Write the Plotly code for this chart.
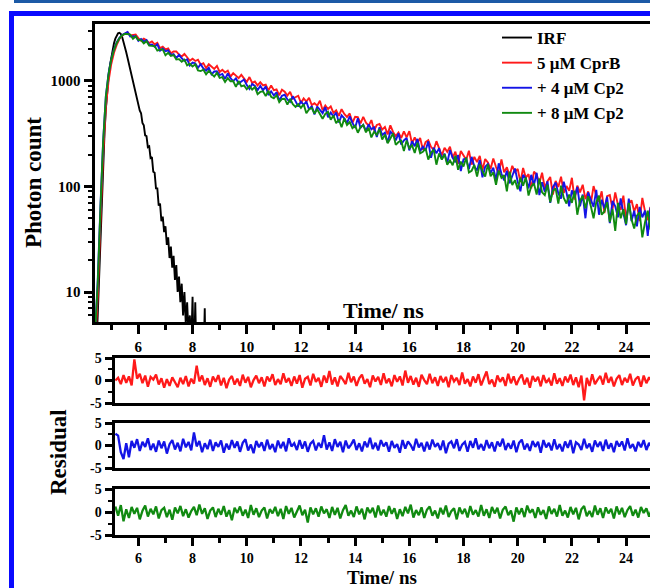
import numpy as np
import plotly.graph_objects as go

# ---------------- channel grids (ns) ----------------
DECAY_T0, DECAY_DT = 4.4, 0.1     # decay histograms
IRF_T0, IRF_DT = 4.4, 0.05        # instrument response
RES_T0, RES_DT = 5.15, 0.1        # fit residuals

series_names = ["IRF", "5 \u03bcM CprB", "+ 4 \u03bcM Cp2", "+ 8 \u03bcM Cp2"]

# ---------------- photon counts ----------------
irf_counts = [
    2, 3, 6, 14, 35, 80, 170, 320, 540, 800,
    1100, 1400, 1700, 2000, 2280, 2520, 2700, 2830, 2860, 2800,
    2620, 2380, 2120, 1880, 1660, 1460, 1290, 1140, 1010, 870,
    805, 680, 630, 525, 495, 400, 380, 305, 300, 236,
    240, 186, 190, 138, 135, 96, 96, 66, 69, 47,
    52, 37, 42, 28, 33, 21, 27, 17, 22, 13,
    18, 10, 14, 8, 12, 6, 10, 5, 8, 4,
    6, 3, 9, 2, 8, 2, 4, 1, 3, 1,
    2, 7, 1, 2, 1,
]

cprb_counts = [
    3, 9, 45, 200, 560, 1000, 1450, 1850, 2200, 2500, 2700, 2820,
    2901, 2700, 2727, 2755,
    2550, 2411, 2519, 2430, 2284, 2372, 2220, 2302, 2050, 2114,
    1988, 2035, 1829, 1905, 1905, 1779, 1706, 1804, 1678, 1556,
    1628, 1547, 1590, 1428, 1475, 1323, 1442, 1363, 1303, 1388,
    1219, 1277, 1205, 1255, 1101, 1188, 1135, 1063, 1142, 1045,
    978, 1090, 959, 987, 908, 973, 908, 922, 814, 905,
    817, 831, 732, 828, 793, 728, 788, 681, 708, 725,
    620, 683, 638, 691, 591, 617, 584, 649, 527, 586,
    543, 574, 498, 526, 467, 540, 487, 456, 493, 402,
    458, 455, 396, 457, 402, 378, 426, 341, 383, 391,
    346, 367, 312, 380, 329, 300, 325, 288, 333, 292,
    335, 256, 292, 258, 288, 223, 263, 274, 238, 222,
    269, 233, 197, 233, 213, 238, 187, 214, 164, 217,
    194, 179, 218, 161, 191, 170, 195, 143, 182, 169,
    147, 184, 153, 132, 181, 136, 152, 126, 157, 137,
    147, 110, 150, 121, 131, 96, 138, 129, 108, 135,
    97, 112, 123, 84, 113, 99, 124, 87, 101, 91,
    121, 75, 102, 88, 104, 76, 90, 69, 101, 82,
    72, 90, 56, 81, 83, 61, 88, 67, 60, 82,
    49, 69, 74, 58, 68, 47, 78, 58, 48, 64,
    44,
]

cp2_4_counts = [
    4, 13, 65, 270, 720, 1180, 1620, 2000, 2320, 2560, 2730, 2800,
    2917, 2644, 2663, 2662,
    2395, 2497, 2365, 2444, 2194, 2217, 2114, 2224, 1935, 2031,
    1912, 1949, 1765, 1797, 1647, 1774, 1640, 1553, 1607, 1402,
    1493, 1472, 1336, 1441, 1313, 1251, 1335, 1155, 1229, 1236,
    1136, 1166, 1047, 1176, 1064, 997, 1058, 946, 989, 1031,
    915, 842, 937, 898, 819, 900, 815, 890, 735, 798,
    729, 780, 654, 724, 741, 669, 633, 716, 644, 573,
    637, 594, 637, 536, 579, 481, 573, 528, 496, 564,
    454, 503, 460, 503, 403, 472, 442, 399, 462, 401,
    360, 444, 359, 385, 336, 387, 348, 364, 295, 364,
    308, 323, 260, 331, 313, 273, 319, 250, 273, 289,
    220, 268, 241, 283, 216, 238, 219, 268, 187, 233,
    206, 231, 182, 205, 167, 221, 187, 170, 199, 140,
    181, 184, 146, 191, 155, 142, 178, 122, 154, 163,
    134, 151, 115, 166, 132, 114, 141, 107, 128, 148,
    111, 90, 129, 119, 96, 129, 103, 135, 83, 110,
    89, 112, 70, 99, 109, 86, 77, 111, 88, 65,
    92, 79, 99, 65, 84, 50, 88, 74, 64, 93,
    54, 75, 62, 80, 45, 73, 65, 51, 77, 56,
    43, 77, 47, 59, 42, 64, 51, 59, 34, 63,
    43,
]

cp2_8_counts = [
    4, 12, 62, 265, 710, 1160, 1600, 1975, 2290, 2540, 2710, 2790,
    2790, 2753, 2514, 2642,
    2447, 2442, 2268, 2379, 2160, 2136, 2140, 1940, 1984, 1989,
    1752, 1849, 1731, 1760, 1598, 1610, 1521, 1594, 1407, 1456,
    1375, 1440, 1257, 1241, 1278, 1154, 1244, 1166, 1100, 1193,
    1069, 1086, 977, 1066, 994, 1000, 879, 999, 888, 907,
    834, 897, 830, 874, 750, 788, 797, 721, 807, 709,
    684, 733, 630, 675, 679, 596, 678, 602, 569, 602,
    556, 602, 495, 540, 555, 492, 538, 487, 438, 488,
    511, 429, 470, 398, 431, 364, 442, 383, 408, 357,
    377, 323, 366, 383, 326, 360, 292, 331, 309, 349,
    279, 310, 257, 285, 319, 248, 264, 272, 217, 273,
    231, 246, 208, 260, 206, 213, 230, 180, 209, 224,
    161, 206, 180, 202, 161, 177, 159, 196, 144, 172,
    155, 188, 136, 141, 160, 124, 162, 140, 124, 162,
    125, 136, 104, 141, 121, 128, 90, 138, 103, 115,
    94, 121, 102, 122, 82, 100, 107, 84, 119, 88,
    83, 104, 71, 91, 96, 69, 102, 78, 69, 84,
    70, 91, 54, 73, 82, 62, 81, 65, 50, 71,
    82, 54, 58, 71, 46, 61, 38, 70, 50, 61,
    44, 70, 49, 40, 53, 57, 33, 46, 59, 39,
    46,
]

# ---------------- weighted residuals ----------------
cprb_resid = [
    0.0, 0.6, -0.8, 1.2, -0.5, 0.9, -1.1, 4.7, 0.4, 1.5, -0.6, 1.1, -1.4, 0.8, 0.2, 1.3, -0.9, 0.5, -1.6, 0.3,
    -1.2, 0.7, -0.4, -1.5, 0.6, -0.8, 1.0, -1.3, 0.4, -0.7, 3.3, -0.2, 1.1, -1.0, 0.5, -1.4, 0.9, -0.3, 1.2, -1.1,
    0.6, -1.7, 0.2, 1.0, -0.9, 0.4, -1.2, 1.3, -0.5, 0.8, -1.5, 0.1, 1.1, -0.6, 0.7, -1.3, 0.9, -0.2, 1.4, -1.0,
    0.3, -0.8, 1.6, -0.4, 0.5, -1.2, 0.9, -0.7, 1.2, -1.6, 0.4, 0.8, -1.1, 1.5, -0.3, 0.6, -1.4, 1.1, -0.5, 2.1,
    -0.9, 0.7, -1.3, 1.0, 0.2, -0.8, 1.7, -0.4, 0.9, -1.2, 0.5, 1.3, -0.7, 0.3, -1.5, 1.1, -0.2, 0.8, -1.0, 1.6,
    -0.6, 0.4, -1.3, 1.2, -0.3, 0.9, -1.1, 2.2, -0.5, 1.0, -0.9, 0.6, -1.4, 1.3, 0.1, -0.8, 1.5, -0.6, 0.7, -1.2,
    1.0, -0.4, 0.8, -1.5, 1.2, -0.2, 0.6, -1.0, 1.8, -0.7, 0.3, -1.3, 0.9, -0.5, 1.4, -1.1, 0.5, 2.0, -0.8, 0.2,
    -1.4, 1.1, -0.3, 0.7, -1.2, 1.5, -0.6, 0.9, -1.0, 0.4, 1.3, -0.9, 0.6, -1.6, 1.0, -0.2, 0.8, -1.3, 1.2, -0.5,
    0.3, -1.1, 1.6, -0.7, 0.5, -1.2, 0.9, -0.4, 1.3, -1.0, 0.7, -1.5, 1.1, -4.4, 0.6, -1.2, 1.4, -0.8, 0.2, 1.0,
    -0.9, 1.7, -0.5, 0.8, -1.3, 0.4, 1.2, -1.0, 0.6, -0.4, 1.5, -1.1, 0.3, 0.9, -1.4, 1.1, -0.6, 0.7, -0.2,
]

cp2_4_resid = [
    2.6, 2.2, -1.5, -3.0, 0.5, -2.6, 1.0, -0.5, 1.4, -1.2, 0.8, -0.3, 1.6, -1.0, 0.4, -1.4, 1.1, -0.6, 0.9, -1.8,
    0.3, 1.2, -0.9, 0.6, -1.3, 1.5, -0.4, 0.8, -1.1, 2.9, -0.2, 1.0, -1.5, 0.5, -0.8, 1.3, -1.2, 0.7, -0.3, 1.1,
    -1.6, 0.4, -0.9, 1.2, -0.5, 0.9, -1.4, 0.6, 1.4, -1.1, 0.2, -1.7, 1.0, -0.4, 0.7, -1.2, 1.3, -0.8, 0.3, -1.5,
    1.1, -0.6, 0.8, -1.3, 1.6, -0.2, 0.5, -1.0, 1.2, -0.7, 0.9, -1.4, 0.4, 1.0, -1.1, 0.6, -0.5, 2.3, -0.9, 0.7,
    -1.2, 1.4, -0.3, 0.8, -1.5, 1.1, -0.6, 0.2, 1.3, -1.0, 0.5, -1.3, 0.9, -0.4, 1.7, -0.8, 0.6, -1.1, 1.2, -0.2,
    0.7, -1.4, 1.0, -0.5, 0.3, -1.6, 1.2, -0.7, 0.9, 0.1, -1.1, 1.5, -0.4, 0.6, -1.3, 0.8, -0.9, 1.3, -0.3, 0.5,
    -1.0, 1.1, -1.7, 0.4, 0.9, -0.6, 1.4, -1.2, 0.2, 0.8, -1.4, 1.0, -0.5, 1.6, -0.8, 0.3, -1.1, 1.2, -0.6, 0.7,
    -1.3, 0.9, -0.2, 1.5, -1.0, 0.5, -0.7, 1.1, -1.5, 0.6, 1.3, -0.9, 0.4, -1.2, 1.0, -0.3, 0.8, -1.6, 1.2, -0.4,
    0.6, -1.1, 1.4, -0.8, 0.3, -1.3, 0.9, -0.5, 1.2, -1.7, 0.7, 0.2, -1.0, 1.5, -0.6, 0.4, -1.4, 1.1, -0.3, 0.8,
    -1.2, 1.3, -0.7, 0.5, -1.5, 1.0, -0.2, 0.9, -1.1, 1.6, -0.6, 0.3, -1.3, 0.8, -0.4, 1.2, -1.0, 0.6, -0.5,
]

cp2_8_resid = [
    1.2, -0.8, 1.5, -2.0, 0.6, -1.3, 1.1, -0.4, 0.9, -1.6, 0.3, 1.4, -1.0, 0.7, -0.5, 1.2, -1.4, 0.4, 0.9, -1.1,
    0.5, -1.7, 1.0, -0.3, 1.3, -0.9, 0.6, -1.2, 0.2, 1.1, -0.7, 1.6, -0.4, 0.8, -1.5, 0.3, 1.0, -1.1, 0.7, -0.6,
    1.3, -1.0, 0.4, -1.8, 0.9, -0.2, 1.2, -0.8, 0.5, -1.3, 1.5, -0.6, 0.8, -1.1, 0.3, 1.0, -1.4, 0.6, -0.3, 1.1,
    -0.9, 0.7, -1.5, 1.3, -0.4, 0.9, -1.2, 0.2, 1.4, -0.7, 0.5, -2.3, 1.0, -0.5, 0.8, -1.0, 1.2, -0.3, 0.6, -1.3,
    1.1, -0.6, 0.9, -1.4, 0.4, 1.5, -0.8, 0.3, -1.1, 1.2, -0.5, 0.7, -1.6, 1.0, -0.2, 0.9, -1.2, 1.4, -0.7, 0.5,
    -1.0, 1.3, -0.4, 0.8, -1.5, 0.6, -0.9, 1.1, -0.3, 1.6, -1.2, 0.4, -0.7, 1.0, -1.3, 0.5, 1.2, -0.8, 0.3, -1.4,
    0.9, -0.5, 1.4, -1.1, 0.2, 0.8, -1.6, 1.0, -0.4, 0.7, -1.2, 1.3, -0.6, 0.4, -1.0, 1.5, -0.8, 0.6, -1.3, 1.1,
    -0.3, 0.9, -1.4, 0.5, 1.2, -0.7, 0.3, -2.1, 1.0, -0.5, 0.8, -1.1, 1.4, -0.2, 0.6, -1.3, 1.0, -0.6, 0.4, -1.5,
    1.2, -0.4, 0.7, -1.0, 1.5, -0.8, 0.3, -1.2, 1.1, -0.5, 0.9, -1.6, 0.6, 1.3, -0.9, 0.2, -1.1, 1.4, -0.6, 0.8,
    -1.3, 1.0, -0.3, 0.7, -1.4, 1.2, -0.5, 0.9, -1.1, 0.4, 1.3, -0.8, 0.5, -1.2, 1.1, -0.2, 0.8, -1.0, 0.6,
]

# ---------------- styling ----------------
W, H = 650, 588
FONT = "Liberation Serif, Times New Roman, serif"
colors = ["#000000", "#ff1a1a", "#1414e6", "#118a11"]


def xp(px):
    return px / W


def yp(py):
    return 1 - py / H


def grid(t0, dt, n):
    return np.round(t0 + dt * np.arange(n), 4)


t_irf = grid(IRF_T0, IRF_DT, len(irf_counts))
t_dec = grid(DECAY_T0, DECAY_DT, len(cprb_counts))
t_res = grid(RES_T0, RES_DT, len(cprb_resid))

fig = go.Figure()

decays = [(t_irf, irf_counts), (t_dec, cprb_counts), (t_dec, cp2_4_counts), (t_dec, cp2_8_counts)]
for i, (tt, yy) in enumerate(decays):
    fig.add_trace(go.Scatter(
        x=tt, y=yy, mode="lines", name=series_names[i],
        line=dict(color=colors[i], width=1.9), xaxis="x", yaxis="y"))

resids = [cprb_resid, cp2_4_resid, cp2_8_resid]
for i, rr in enumerate(resids):
    fig.add_trace(go.Scatter(
        x=t_res, y=rr, mode="lines", showlegend=False,
        line=dict(color=colors[i + 1], width=2.3),
        xaxis=f"x{i + 2}", yaxis=f"y{i + 2}"))

tickfont = dict(family=FONT, size=15, color="black", weight="bold")
X_MAX = 24.883

frame = dict(showline=True, linewidth=3, linecolor="black", showgrid=False, zeroline=False,
             automargin=False)


def time_axis(domain_left, left_val, anchor, labelled, size=15, ticklen=9):
    ax = dict(frame, domain=[domain_left, 1], range=[left_val, X_MAX], anchor=anchor, mirror=True)
    if labelled:
        ax.update(ticks="outside", ticklen=ticklen, tickwidth=2.5, tickcolor="black",
                  tick0=0, dtick=2, tickfont=dict(tickfont, size=size),
                  minor=dict(ticks="outside", ticklen=5, tickwidth=2.5, tickcolor="black", tick0=0, dtick=1))
    else:
        ax.update(ticks="", showticklabels=False)
    return ax


minor_log = [v * m for v in (1, 10, 100, 1000) for m in range(2, 10)]

layout = dict(
    width=W, height=H, margin=dict(l=0, r=0, t=0, b=0, pad=0, autoexpand=False),
    paper_bgcolor="white", plot_bgcolor="white",
    xaxis=time_axis(xp(94.5), 4.381, "y", True),
    yaxis=dict(frame, domain=[yp(322), yp(24)], type="log", range=[0.716, 3.54], anchor="x",
               tickvals=[10, 100, 1000], ticktext=["10", "100", "1000"],
               ticks="outside", ticklen=8, tickwidth=2.5, tickcolor="black", tickfont=tickfont,
               minor=dict(tickvals=minor_log, ticks="outside", ticklen=4, tickwidth=2, tickcolor="black")),
    showlegend=True,
    legend=dict(x=xp(497), y=yp(20), xanchor="left", yanchor="top", bgcolor="rgba(0,0,0,0)",
                font=dict(family=FONT, size=17, color="black", weight="bold"),
                itemwidth=30),
)

res_domains = [(403, 358), (468, 423), (535, 489)]
for k, (bot, top) in enumerate(res_domains):
    n = k + 2
    layout[f"xaxis{n}"] = time_axis(xp(114.5), 5.117, f"y{n}", n == 4, size=14, ticklen=8)
    layout[f"yaxis{n}"] = dict(frame, domain=[yp(bot), yp(top)], range=[-5, 5], anchor=f"x{n}",
                               tickvals=[-5, 0, 5], ticktext=["-5", "0", "5"],
                               ticks="outside", ticklen=7, tickwidth=2.5, tickcolor="black",
                               tickfont=dict(family=FONT, size=14, color="black", weight="bold"),
                               minor=dict(dtick=2.5, tick0=0, ticks="outside", ticklen=4, tickwidth=2,
                                          tickcolor="black"))

fig.update_layout(**layout)

title_font = dict(family=FONT, size=23, color="black", weight="bold")


def label(text, px_x, px_y, font, angle=0):
    fig.add_annotation(text=text, x=xp(px_x), y=yp(px_y), xref="paper", yref="paper",
                       xanchor="center", yanchor="middle", showarrow=False,
                       textangle=angle, font=font)


label("Time/ ns", 383, 310, dict(family=FONT, size=22, color="black", weight="bold"))
label("Time/ ns", 382, 577, dict(family=FONT, size=19, color="black", weight="bold"))
label("Photon count", 33, 183, title_font, -90)
label("Residual", 58, 452, title_font, -90)

# page rules around the figure
fig.add_shape(type="line", xref="paper", yref="paper", x0=xp(14), x1=1, y0=yp(1.5), y1=yp(1.5),
              line=dict(color="#1c5aa6", width=3))
fig.add_shape(type="line", xref="paper", yref="paper", x0=xp(9), x1=1, y0=yp(13.5), y1=yp(13.5),
              line=dict(color="#0a0aff", width=5))
fig.add_shape(type="line", xref="paper", yref="paper", x0=xp(11.5), x1=xp(11.5), y0=0, y1=yp(11),
              line=dict(color="#0a0aff", width=5))

fig.write_html("out.html", post_script="document.body.style.margin='0';")
